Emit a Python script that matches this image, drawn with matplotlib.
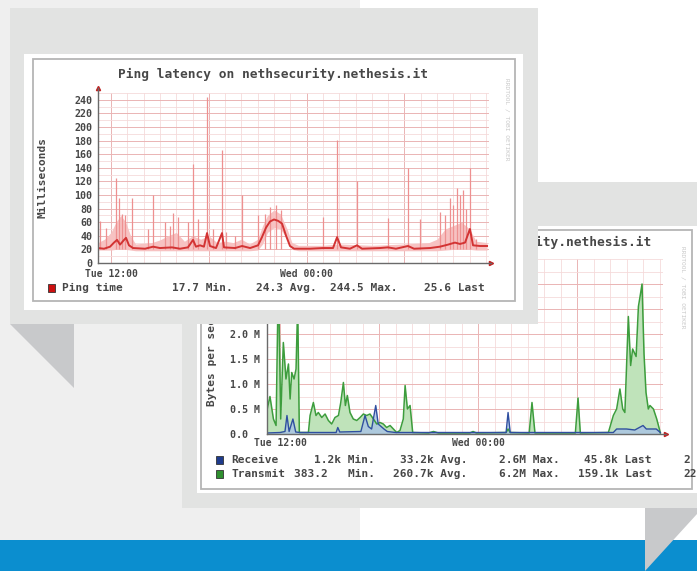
import matplotlib
matplotlib.use("Agg")
import matplotlib.pyplot as plt
from matplotlib.patches import Rectangle, Polygon
import matplotlib.ticker as mt

W, H = 697, 571
FONT = "DejaVu Sans Mono"
plt.rcParams["font.family"] = [FONT, "DejaVu Sans"]
plt.rcParams["font.weight"] = "bold"

# ---------------- Ping latency chart data (hours from Tue 12:00) ----------------
ping_title = "Ping latency on nethsecurity.nethesis.it"
ping_ylabel = "Milliseconds"
ping_yticks = [0, 20, 40, 60, 80, 100, 120, 140, 160, 180, 200, 220, 240]
ping_xticks = [0, 12]
ping_xlabels = ["Tue 12:00", "Wed 00:00"]

ping_avg_t = [-0.80, -0.43, -0.06, 0.18, 0.37, 0.55, 0.80, 0.92, 1.10, 1.35,
              2.09, 2.58, 3.00, 3.74, 4.23, 4.72, 5.03, 5.21, 5.46, 5.70,
              5.89, 6.07, 6.44, 6.81, 6.93, 7.61, 8.04, 8.53, 9.02, 9.26,
              9.51, 9.75, 10.00, 10.25, 10.49, 10.74, 10.98, 11.23, 12.21, 13.00,
              13.62, 13.87, 14.11, 14.66, 15.09, 15.40, 16.50, 16.99, 17.48, 18.22,
              18.59, 19.57, 20.18, 20.67, 21.10, 21.41, 21.72, 22.02, 22.21, 22.64,
              23.07]
ping_avg_v = [22, 21, 24, 30, 34, 27, 34, 37, 26, 22,
              21, 24, 22, 23, 21, 23, 34, 24, 26, 24,
              44, 25, 22, 44, 23, 22, 25, 22, 26, 38,
              52, 61, 64, 62, 58, 40, 25, 21, 21, 22,
              22, 38, 23, 21, 26, 21, 22, 23, 21, 25,
              21, 22, 24, 27, 30, 28, 30, 50, 26, 25,
              25]

ping_env_t = [-0.8, -0.4, 0.0, 0.3, 0.6, 0.9, 1.2, 1.5, 2.5, 3.0,
              3.5, 4.0, 4.5, 5.0, 5.5, 6.0, 6.5, 7.0, 7.5, 8.0,
              8.5, 9.0, 9.3, 9.6, 10.0, 10.4, 10.8, 11.1, 11.5, 13.0,
              14.0, 16.0, 18.0, 19.5, 20.0, 20.5, 21.0, 21.5, 22.0, 22.4,
              23.07]
ping_env_max = [30, 35, 45, 60, 70, 60, 40, 28, 30, 34,
                40, 45, 32, 40, 35, 40, 30, 32, 30, 35,
                28, 35, 55, 70, 78, 72, 50, 30, 26, 26,
                28, 26, 28, 30, 35, 50, 55, 60, 50, 32,
                30]
ping_env_min = [19, 19, 19, 20, 20, 20, 19, 18, 18, 18,
                18, 18, 18, 18, 18, 18, 18, 18, 18, 18,
                18, 19, 28, 45, 52, 50, 35, 20, 18, 18,
                18, 18, 18, 18, 18, 19, 20, 20, 20, 19,
                19]

ping_spike_t = [-0.67, -0.31, 0.31, 0.49, 0.67, 0.86, 1.29, 2.27, 2.58, 3.31,
                3.62, 3.80, 4.11, 4.72, 5.03, 5.34, 5.89, 6.26, 6.81, 7.06,
                7.61, 8.04, 9.02, 9.45, 9.75, 10.12, 10.43, 13.00, 13.87, 15.09,
                16.99, 18.22, 18.96, 20.18, 20.49, 20.80, 20.98, 21.23, 21.41, 21.60,
                21.78, 22.02, 22.39]
ping_spike_v = [62, 52, 125, 95, 72, 70, 95, 50, 100, 60,
                55, 73, 68, 60, 145, 65, 244, 50, 166, 45,
                40, 100, 70, 72, 82, 85, 78, 68, 181, 120,
                66, 140, 65, 75, 70, 95, 85, 110, 100, 108,
                80, 140, 35]

ping_legend_name = "Ping time"
ping_legend_stats = ["17.7 Min.", "24.3 Avg.", "244.5 Max.", "25.6 Last"]

# ---------------- Traffic chart data (hours from Tue 12:00, MB/s) ----------------
traffic_title = "Traffic on nethsecurity.nethesis.it"
traffic_ylabel = "Bytes per second"
traffic_yticks = [0.0, 0.5, 1.0, 1.5, 2.0, 2.5, 3.0]
traffic_ylabels = ["0.0  ", "0.5 M", "1.0 M", "1.5 M", "2.0 M", "2.5 M", "3.0 M"]
traffic_xticks = [0, 12]
traffic_xlabels = ["Tue 12:00", "Wed 00:00"]

tx_t = [-0.81, -0.61, -0.40, -0.24, -0.10, 0.04, 0.20, 0.36, 0.51, 0.61,
        0.71, 0.85, 0.97, 1.07, 1.17, 1.72, 1.82, 2.02, 2.18, 2.32,
        2.53, 2.73, 2.93, 3.13, 3.33, 3.54, 3.68, 3.84, 3.96, 4.08,
        4.24, 4.44, 4.65, 4.85, 5.05, 5.25, 5.45, 5.66, 5.86, 6.06,
        6.26, 6.46, 6.67, 6.87, 7.07, 7.27, 7.47, 7.58, 7.72, 7.88,
        8.04, 9.00, 9.30, 9.60, 11.50, 11.70, 11.90, 13.70, 13.82, 13.95,
        15.10, 15.27, 15.45, 17.90, 18.06, 18.20, 19.90, 20.20, 20.40, 20.60,
        20.77, 20.90, 21.11, 21.25, 21.37, 21.58, 21.72, 21.82, 21.94, 22.06,
        22.18, 22.32, 22.42, 22.63, 22.83, 22.99, 23.05]
tx_v = [0.45, 0.75, 0.30, 0.17, 3.20, 0.30, 1.83, 1.10, 1.40, 0.70,
        1.23, 1.10, 1.30, 2.60, 0.03, 0.03, 0.37, 0.63, 0.37, 0.43,
        0.33, 0.40, 0.27, 0.20, 0.33, 0.37, 0.63, 1.03, 0.57, 0.77,
        0.43, 0.30, 0.27, 0.33, 0.40, 0.37, 0.40, 0.30, 0.20, 0.23,
        0.20, 0.13, 0.17, 0.10, 0.03, 0.07, 0.30, 0.97, 0.50, 0.57,
        0.03, 0.02, 0.05, 0.02, 0.02, 0.05, 0.02, 0.03, 0.10, 0.03,
        0.02, 0.63, 0.02, 0.02, 0.72, 0.02, 0.03, 0.37, 0.50, 0.90,
        0.50, 0.43, 2.35, 1.37, 1.70, 1.55, 2.55, 2.75, 3.00, 1.60,
        0.83, 0.50, 0.57, 0.50, 0.30, 0.10, 0.02]

rx_t = [-0.81, 0.00, 0.30, 0.42, 0.55, 0.78, 0.95, 1.20, 3.40, 3.50,
        3.62, 4.90, 5.15, 5.35, 5.55, 5.80, 5.95, 6.30, 6.50, 7.00,
        13.70, 13.82, 13.95, 20.20, 20.40, 21.00, 21.50, 22.00, 22.20, 22.80,
        23.05]
rx_v = [0.02, 0.03, 0.05, 0.37, 0.05, 0.30, 0.04, 0.03, 0.03, 0.13,
        0.04, 0.05, 0.37, 0.15, 0.10, 0.57, 0.20, 0.10, 0.05, 0.03,
        0.03, 0.43, 0.03, 0.03, 0.10, 0.10, 0.08, 0.17, 0.10, 0.10,
        0.03]

rx_name = "Receive"
tx_name = "Transmit"
rx_stats = ["1.2k Min.", "33.2k Avg.", "2.6M Max.", "45.8k Last", "2"]
tx_stats = ["383.2   Min.", "260.7k Avg.", "6.2M Max.", "159.1k Last", "22"]
watermark = "RRDTOOL / TOBI OETIKER"

# ---------------- colours ----------------
TXT = "#474747"
PANEL = "#e2e3e2"
TAIL = "#c8c9cb"
LEFTBG = "#efefef"
BLUE = "#0b8ecf"
GRID_MIN = "#f5dada"
GRID_MAJ = "#eab4b4"


def axes_rect(l, t, r, b):
    return [l / W, 1 - b / H, (r - l) / W, (b - t) / H]


def pixel_layer(z):
    a = fig.add_axes([0, 0, 1, 1], zorder=z)
    a.set_xlim(0, W)
    a.set_ylim(H, 0)
    a.axis("off")
    a.patch.set_alpha(0)
    return a


def style_plot(ax, xmajor, ymajor, yminor):
    ax.set_facecolor("white")
    ax.xaxis.set_major_locator(mt.MultipleLocator(xmajor))
    ax.xaxis.set_minor_locator(mt.MultipleLocator(1))
    ax.yaxis.set_minor_locator(mt.MultipleLocator(yminor))
    ax.grid(which="minor", color=GRID_MIN, lw=0.6)
    ax.grid(which="major", color=GRID_MAJ, lw=0.7)
    ax.set_axisbelow(True)
    for s in ["top", "right"]:
        ax.spines[s].set_visible(False)
    for s in ["left", "bottom"]:
        ax.spines[s].set_color("#6a6a6a")
        ax.spines[s].set_linewidth(1.0)
    ax.tick_params(which="both", length=0, colors=TXT)


fig = plt.figure(figsize=(W / 100, H / 100), dpi=100)
fig.patch.set_facecolor("white")

# ---------- back layer: background, panel 2, traffic canvas ----------
bg = pixel_layer(0)
bg.patch.set_alpha(1)
bg.patch.set_facecolor("white")
bg.add_patch(Rectangle((0, 0), 360, 540, fc=LEFTBG, ec="none"))
bg.add_patch(Rectangle((182, 182), 515, 326, fc=PANEL, ec="none"))
bg.add_patch(Rectangle((0, 540), 697, 31, fc=BLUE, ec="none"))
bg.add_patch(Polygon([(645, 508), (697, 508), (697, 514), (645, 571)], fc=TAIL, ec="none"))
bg.add_patch(Rectangle((197, 226), 500, 267, fc="white", ec="none"))
bg.add_patch(Rectangle((201, 230), 491, 259, fc="none", ec="#b5b5b5", lw=1.3))
bg.text(651, 242, traffic_title, ha="right", va="center", fontsize=9.3, color=TXT)
bg.text(212, 352, traffic_ylabel, rotation=90, ha="center", va="center", fontsize=8, color=TXT)
bg.text(683, 287, watermark, rotation=270, ha="center", va="center", fontsize=4.5,
        color="#c9c9c9", fontweight="normal")
bg.add_patch(Rectangle((216, 456), 7, 8, fc="#1f3b8c", ec="#333333", lw=0.6))
bg.add_patch(Rectangle((216, 470), 7, 8, fc="#2f8f2f", ec="#333333", lw=0.6))
bg.text(231, 460, rx_name, ha="left", va="center", fontsize=8, color=TXT)
bg.text(231, 474, tx_name, ha="left", va="center", fontsize=8, color=TXT)
stat_ends = [375, 467, 560, 652]
for i in range(4):
    bg.text(stat_ends[i], 460, rx_stats[i], ha="right", va="center", fontsize=8, color=TXT)
    bg.text(stat_ends[i], 474, tx_stats[i], ha="right", va="center", fontsize=8, color=TXT)
bg.text(683, 460, rx_stats[4], ha="left", va="center", fontsize=8, color=TXT)
bg.text(683, 474, tx_stats[4], ha="left", va="center", fontsize=8, color=TXT)

# ---------- traffic plot ----------
ax2 = fig.add_axes(axes_rect(267, 259, 663, 434), zorder=1)
style_plot(ax2, 6, 0.5, 0.25)
ax2.fill_between(tx_t, 0, tx_v, color="#bfe3ba", lw=0)
ax2.fill_between(rx_t, 0, rx_v, color="#a9c3e6", alpha=0.8, lw=0)
ax2.plot(tx_t, tx_v, color="#3d9d3d", lw=1.1)
ax2.plot(rx_t, rx_v, color="#2f4fa0", lw=1.0)
ax2.set_xlim(-0.79, 23.21)
ax2.set_ylim(0, 3.5)
ax2.set_yticks(traffic_yticks)
ax2.set_yticklabels(traffic_ylabels, fontsize=7.2)
tl2 = dict(zip(traffic_xticks, traffic_xlabels))
ax2.xaxis.set_major_formatter(mt.FuncFormatter(lambda v, p: tl2.get(int(round(v)), "")))
ax2.tick_params(axis="x", labelsize=7, pad=3)
ax2.tick_params(axis="y", pad=5)
ax2.spines["bottom"].set_bounds(-0.79, 23.39)
ax2.plot([23.39], [0], marker=">", ms=3, color="#c02020", clip_on=False)

# ---------- front layer: panel 1 and ping canvas ----------
ov = pixel_layer(2)
ov.add_patch(Rectangle((10, 8), 528, 316, fc=PANEL, ec="none"))
ov.add_patch(Polygon([(10, 324), (74, 324), (74, 388)], fc=TAIL, ec="none"))
ov.add_patch(Rectangle((24, 54), 499, 256, fc="white", ec="none"))
ov.add_patch(Rectangle((33, 59), 482, 242, fc="none", ec="#b5b5b5", lw=1.3))
ov.text(273, 74, ping_title, ha="center", va="center", fontsize=9.3, color=TXT)
ov.text(43, 177, ping_ylabel, rotation=90, ha="center", va="center", fontsize=8, color=TXT)
ov.text(507, 119, watermark, rotation=270, ha="center", va="center", fontsize=4.5,
        color="#c9c9c9", fontweight="normal")
ov.add_patch(Rectangle((48, 284), 7, 8, fc="#cc1010", ec="#333333", lw=0.6))
ov.text(62, 288, ping_legend_name, ha="left", va="center", fontsize=8, color=TXT)
ping_ends = [233, 317, 398, 485]
for i in range(4):
    ov.text(ping_ends[i], 288, ping_legend_stats[i], ha="right", va="center", fontsize=8, color=TXT)

# ---------- ping plot ----------
ax1 = fig.add_axes(axes_rect(98, 93, 489, 263), zorder=3)
style_plot(ax1, 6, 20, 10)
ax1.fill_between(ping_env_t, ping_env_min, ping_env_max, color="#f7c2c2", lw=0)
ax1.vlines(ping_spike_t, 20, ping_spike_v, color="#ee9090", lw=0.9)
ax1.plot(ping_avg_t, ping_avg_v, color="#d33333", lw=1.4)
ax1.set_xlim(-0.80, 23.19)
ax1.set_ylim(0, 250)
ax1.set_yticks(ping_yticks)
ax1.set_yticklabels([str(v) for v in ping_yticks], fontsize=7.2)
tl1 = dict(zip(ping_xticks, ping_xlabels))
ax1.xaxis.set_major_formatter(mt.FuncFormatter(lambda v, p: tl1.get(int(round(v)), "")))
ax1.tick_params(axis="x", labelsize=7, pad=4.5)
ax1.tick_params(axis="y", pad=4)
ax1.spines["bottom"].set_bounds(-0.80, 23.31)
ax1.spines["left"].set_bounds(0, 257)
ax1.plot([23.31], [0], marker=">", ms=3, color="#c02020", clip_on=False)
ax1.plot([-0.80], [257], marker="^", ms=3, color="#c02020", clip_on=False)

fig.savefig("out.png", dpi=100)
